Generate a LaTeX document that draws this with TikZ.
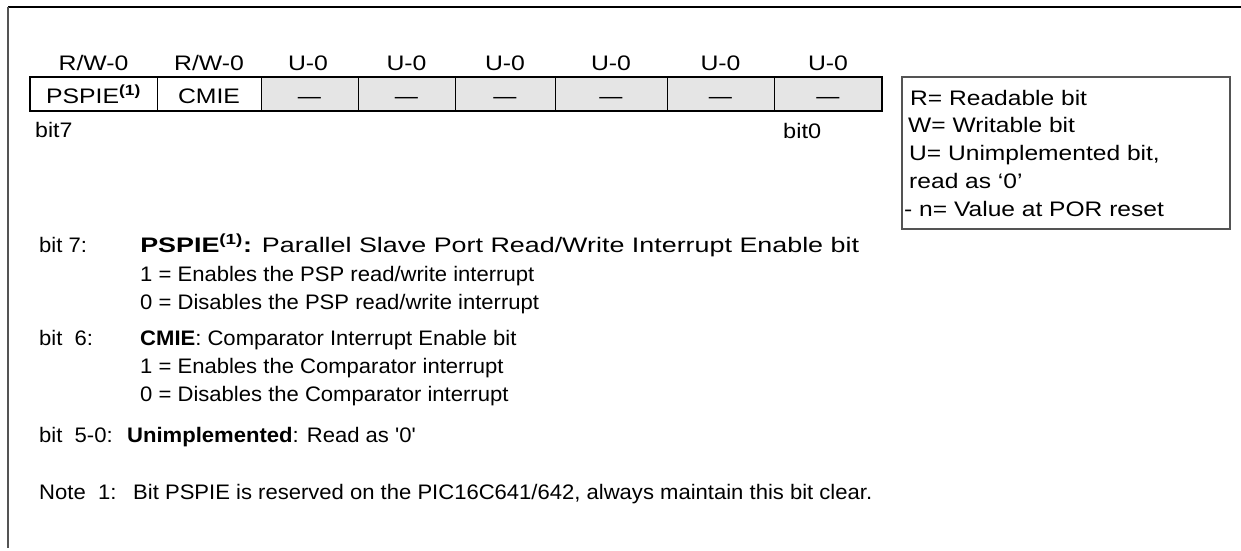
\documentclass[tikz,border=0pt]{standalone}
\usepackage{fontspec}
\setmainfont{Liberation Sans}

\begin{document}
\begin{tikzpicture}[x=1pt,y=-1pt]

\definecolor{regfill}{gray}{0.9}
\definecolor{framegray}{gray}{0.33}

\tikzset{every node/.style={inner sep=0pt, font=\fontsize{21}{25}\selectfont}}
\tikzset{lbl/.style={anchor=base west}}
\tikzset{hdr/.style={anchor=base}}
\tikzset{wide/.style={xscale=#1, transform shape}}

\def\regtop{77}
\def\regbot{111}
\def\tagx{39}
\def\txtx{140}

\useasboundingbox (0,0) rectangle (1241,550);

% frame
\draw[line width=2pt] (8,7) -- (1241,7);
\draw[line width=2pt, framegray] (8,7) -- (8,548);

% register
\fill[regfill] (261,\regtop) rectangle (882,\regbot);
\draw[line width=1.2pt] (30,\regtop) rectangle (882,\regbot);
\draw[line width=1pt] (157,\regtop) -- (157,\regbot);
\draw[line width=1pt] (261,\regtop) -- (261,\regbot);
\draw[line width=1pt] (358,\regtop) -- (358,\regbot);
\draw[line width=1pt] (455,\regtop) -- (455,\regbot);
\draw[line width=1pt] (555,\regtop) -- (555,\regbot);
\draw[line width=1pt] (667,\regtop) -- (667,\regbot);
\draw[line width=1pt] (774,\regtop) -- (774,\regbot);

\node[hdr, wide=1.18] (acc7) at ( 93.5,70) {R/W-0};
\node[hdr, wide=1.18] (acc6) at (209.0,70) {R/W-0};
\node[hdr, wide=1.18] (acc5) at (308.0,70) {U-0};
\node[hdr, wide=1.18] (acc4) at (406.5,70) {U-0};
\node[hdr, wide=1.18] (acc3) at (505.0,70) {U-0};
\node[hdr, wide=1.18] (acc2) at (611.0,70) {U-0};
\node[hdr, wide=1.18] (acc1) at (720.5,70) {U-0};
\node[hdr, wide=1.18] (acc0) at (828.0,70) {U-0};

\node[hdr, wide=1.18] (bit7) at ( 93.5,103) {PSPIE\textsuperscript{\bfseries (1)}};
\node[hdr, wide=1.18] (bit6) at (209.0,103) {CMIE};
\node[hdr, wide=1.1] (bit5) at (309.5,103) {---};
\node[hdr, wide=1.1] (bit4) at (406.5,103) {---};
\node[hdr, wide=1.1] (bit3) at (505.0,103) {---};
\node[hdr, wide=1.1] (bit2) at (611.0,103) {---};
\node[hdr, wide=1.1] (bit1) at (720.5,103) {---};
\node[hdr, wide=1.1] (bit0) at (828.0,103) {---};

\node[lbl, wide=1.1] (msb) at (35,137) {bit7};
\node[lbl, wide=1.12] (lsb) at (783,138) {bit0};

% legend
\draw[line width=1.2pt, framegray] (902,\regtop) rectangle (1230,229);
\node[lbl, wide=1.17] (keyr) at (910,105) {R= Readable bit};
\node[lbl, wide=1.17] (keyw) at (908,132) {W= Writable bit};
\node[lbl, wide=1.17] (keyu) at (909,160) {U= Unimplemented bit,};
\node[lbl, wide=1.17] (keyz) at (909,188) {read as `0'};
\node[lbl, wide=1.17] (keyn) at (904,216) {- n= Value at POR reset};

% bit descriptions
\node[lbl, wide=1.05] (d7)  at (\tagx,252) {bit 7:};
\node[lbl, wide=1.28] (d7a) at (\txtx,252) {\textbf{PSPIE\textsuperscript{(1)}:} Parallel Slave Port Read/Write Interrupt Enable bit};
\node[lbl, wide=1.05] (d7b) at (\txtx,281) {1 = Enables the PSP read/write interrupt};
\node[lbl, wide=1.05] (d7c) at (\txtx,309) {0 = Disables the PSP read/write interrupt};

\node[lbl, wide=1.05] (d6)  at (\tagx,345) {bit\ \ 6:};
\node[lbl, wide=1.05] (d6a) at (\txtx,345) {\textbf{CMIE}: Comparator Interrupt Enable bit};
\node[lbl, wide=1.05] (d6b) at (\txtx,373) {1 = Enables the Comparator interrupt};
\node[lbl, wide=1.05] (d6c) at (\txtx,401) {0 = Disables the Comparator interrupt};

\node[lbl, wide=1.05] (d50) at (\tagx,442) {bit\ \ 5-0:};
\node[lbl, wide=1.05] (d50a) at (127,442) {\textbf{Unimplemented}: Read as \textquotesingle 0\textquotesingle};

\node[lbl, wide=1.05] (n1) at (\tagx,499) {Note\ \ 1:};
\node[lbl, wide=1.05] (n1a) at (133,499) {Bit PSPIE is reserved on the PIC16C641/642, always maintain this bit clear.};

\end{tikzpicture}
\end{document}
